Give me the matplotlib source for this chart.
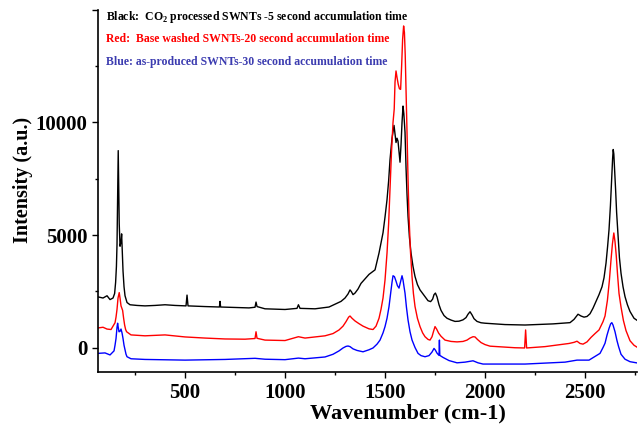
import numpy as np
import matplotlib.pyplot as plt
from matplotlib.ticker import MultipleLocator

plt.rcParams['font.family'] = ['Liberation Serif', 'DejaVu Serif']
plt.rcParams['font.weight'] = 'bold'
plt.rcParams['mathtext.fontset'] = 'custom'
plt.rcParams['mathtext.rm'] = 'Liberation Serif:bold'
plt.rcParams['mathtext.bf'] = 'Liberation Serif:bold'

# ================================
# spectra (wavenumber, intensity)

black_w = [65, 90, 110, 125, 140, 148, 153, 157, 160, 163, 166, 168, 171, 175, 180, 183, 186, 190,
           195, 200, 210, 225, 260, 300, 350, 400, 450, 505, 510, 515, 600, 672, 675, 678, 750,
           820, 850, 855, 860, 900, 1000, 1060, 1067, 1075, 1150, 1220, 1280, 1300, 1315, 1325,
           1332, 1340, 1350, 1365, 1380, 1400, 1420, 1450, 1470, 1490, 1500, 1510, 1518, 1525,
           1535, 1545, 1550, 1555, 1560, 1565, 1570, 1575, 1580, 1585, 1590, 1594, 1600, 1605,
           1610, 1615, 1622, 1630, 1640, 1650, 1662, 1675, 1690, 1700, 1715, 1728, 1738, 1745,
           1752, 1760, 1770, 1780, 1795, 1810, 1830, 1850, 1870, 1890, 1905, 1915, 1925, 1935,
           1945, 1960, 1980, 2000, 2100, 2200, 2340, 2425, 2445, 2465, 2480, 2495, 2510, 2525,
           2540, 2555, 2570, 2585, 2595, 2605, 2613, 2620, 2627, 2633, 2638, 2641, 2644, 2648,
           2653, 2658, 2665, 2672, 2680, 2690, 2700, 2712, 2725, 2745, 2770]
black_i = [2250, 2200, 2300, 2130, 2200, 2400, 2900, 3600, 4600, 6500, 8750, 7500, 5500, 4500, 4700,
           5050, 4300, 3400, 2700, 2300, 2000, 1900, 1870, 1850, 1870, 1900, 1870, 1850, 2330, 1850,
           1820, 1800, 2050, 1800, 1780, 1760, 1790, 2020, 1820, 1720, 1690, 1740, 1900, 1740,
           1720, 1800, 2050, 2200, 2380, 2560, 2480, 2350, 2420, 2600, 2850, 3050, 3250, 3450,
           4200, 5100, 5800, 6570, 7400, 8350, 9300, 9870, 9500, 9110, 9300, 9170, 8700, 8235,
           9000, 10000, 10730, 10400, 9560, 8000, 6800, 5830, 4900, 4200, 3600, 3155, 2800, 2560,
           2380, 2260, 2080, 2040, 2150, 2350, 2420, 2250, 1900, 1650, 1420, 1300, 1220, 1160,
           1170, 1230, 1330, 1480, 1590, 1450, 1280, 1160, 1100, 1080, 1020, 1000, 1050, 1105,
           1250, 1480, 1400, 1350, 1380, 1500, 1750, 2050, 2350, 2700, 3100, 3750, 4500, 5235,
           6300, 7460, 8400, 8800, 8600, 7900, 7000, 6000, 5000, 4000, 3300, 2700, 2260, 1900,
           1600, 1300, 1150]

red_w = [65, 90, 110, 130, 150, 155, 160, 165, 171, 175, 180, 188, 193, 198, 203, 208, 230, 300,
         400, 500, 600, 700, 800, 850, 855, 860, 900, 1000, 1067, 1100, 1200, 1240, 1270, 1290,
         1305, 1318, 1325, 1335, 1350, 1370, 1390, 1420, 1440, 1455, 1470, 1480, 1490, 1500,
         1510, 1518, 1525, 1532, 1540, 1546, 1550, 1555, 1560, 1566, 1572, 1578, 1583, 1588,
         1593, 1597, 1601, 1605, 1610, 1615, 1620, 1627, 1635, 1642, 1650, 1662, 1675, 1688,
         1700, 1715, 1725, 1735, 1742, 1750, 1758, 1768, 1780, 1800, 1830, 1860, 1890, 1910,
         1925, 1940, 1950, 1962, 1980, 2000, 2025, 2150, 2198, 2203, 2208, 2300, 2420, 2445,
         2460, 2475, 2490, 2510, 2530, 2550, 2570, 2590, 2600, 2612, 2622, 2630, 2637, 2644,
         2650, 2656, 2663, 2670, 2680, 2692, 2705, 2725, 2745, 2770]
red_i = [870, 900, 820, 800, 1100, 1350, 1700, 2200, 2440, 2200, 1850, 1650, 1300, 1000, 800, 700,
         560, 520, 560, 470, 420, 380, 370, 400, 700, 410, 330, 310, 480, 420, 520, 620, 780, 950,
         1150, 1350, 1400, 1300, 1180, 1060, 950, 830, 800, 950, 1300, 1700, 2200, 3000, 4200,
         5500, 7000, 8600, 10000, 10600, 11800, 12290, 12000, 11700, 11500, 11470, 12500, 13700,
         14290, 14000, 13000, 11500, 9560, 7500, 5830, 4300, 3150, 2400, 1820, 1300, 930, 650,
         480, 360, 330, 480, 700, 930, 820, 640, 500, 330, 270, 250, 270, 330, 420, 480, 470, 360,
         220, 130, 60, -10, -20, 780, -20, 40, 180, 230, 280, 180, 150, 250, 450, 620, 780, 1150,
         1400, 2100, 3000, 3900, 4600, 5090, 4700, 4100, 3200, 2400, 1800, 1200, 750, 300, 100,
         -40]

blue_w = [65, 100, 125, 145, 150, 155, 160, 163, 166, 170, 175, 180, 185, 190, 195, 200, 205, 210,
          230, 300, 500, 700, 850, 900, 1000, 1067, 1100, 1200, 1240, 1270, 1290, 1305, 1315,
          1325, 1340, 1360, 1390, 1420, 1440, 1460, 1475, 1490, 1500, 1510, 1520, 1528, 1535,
          1540, 1547, 1555, 1562, 1570, 1577, 1585, 1590, 1595, 1600, 1607, 1615, 1625, 1635,
          1650, 1665, 1680, 1700, 1720, 1735, 1745, 1752, 1760, 1770, 1772, 1774, 1790, 1820,
          1860, 1900, 1940, 1965, 1990, 2200, 2400, 2460, 2520, 2575, 2590, 2600, 2610, 2620,
          2628, 2634, 2640, 2650, 2660, 2668, 2680, 2700, 2725, 2770]
blue_i = [-260, -240, -330, -150, 100, 400, 900, 1080, 900, 700, 720, 820, 650, 400, 100, -100,
          -300, -410, -500, -530, -560, -530, -480, -520, -540, -470, -500, -420, -300, -150, -20,
          50, 67, 40, -60, -130, -190, -100, -20, 150, 330, 650, 930, 1300, 1820, 2400, 2900, 3190,
          3150, 2950, 2750, 2640, 2900, 3190, 3000, 2700, 2415, 1800, 1225, 700, 334, 0, -260,
          -360, -410, -360, -200, -40, -120, -250, -350, 330, -350, -440, -580, -680, -650, -590,
          -680, -735, -735, -650, -560, -560, -260, 0, 190, 550, 850, 1050, 1105, 1000, 700, 300,
          36, -300, -520, -630, -700]

legend_lines = ['Black:  CO$_{2}$ processed SWNTs -5 second accumulation time',
                'Red:  Base washed SWNTs-20 second accumulation time',
                'Blue: as-produced SWNTs-30 second accumulation time']
legend_colors = ['black', 'red', '#3c3cb0']

# ================================
# plot

fig = plt.figure(figsize=(6.39, 4.26), dpi=100)
ax = fig.add_axes([0.1534, 0.1256, 0.8435, 0.851])

ax.plot(black_w, black_i, color='black', lw=1.0)
ax.plot(red_w, red_i, color='red', lw=1.0)
ax.plot(blue_w, blue_i, color='blue', lw=1.0)

ax.set_xlim(65, 2760)
ax.set_ylim(-1110, 15000)

ax.spines['top'].set_visible(False)
ax.spines['right'].set_visible(False)
ax.spines['left'].set_linewidth(1.2)
ax.spines['bottom'].set_linewidth(1.2)

ax.set_xticks([500, 1000, 1500, 2000, 2500])
ax.set_yticks([0, 5000, 10000, 15000])
ax.set_yticklabels(['0', '5000', '10000', ''])
ax.xaxis.set_minor_locator(MultipleLocator(250))
ax.yaxis.set_minor_locator(MultipleLocator(2500))
ax.tick_params(which='major', direction='out', length=4, width=1.0, labelsize=15)
ax.tick_params(which='minor', direction='out', length=2.5, width=1.0)

ax.set_xlabel('Wavenumber (cm-1)', fontsize=16, fontweight='bold')
ax.xaxis.set_label_coords(0.575, -0.086)
ax.set_ylabel('Intensity (a.u.)', fontsize=14.5, fontweight='bold')
ax.yaxis.set_label_coords(-0.121, 0.531)

for k, (txt, col) in enumerate(zip(legend_lines, legend_colors)):
    ax.text(0.015, 0.981 - k * 0.062, txt, transform=ax.transAxes, color=col,
            fontsize=8.5, fontweight='bold', va='center', ha='left')

plt.savefig('out.png', dpi=100)
